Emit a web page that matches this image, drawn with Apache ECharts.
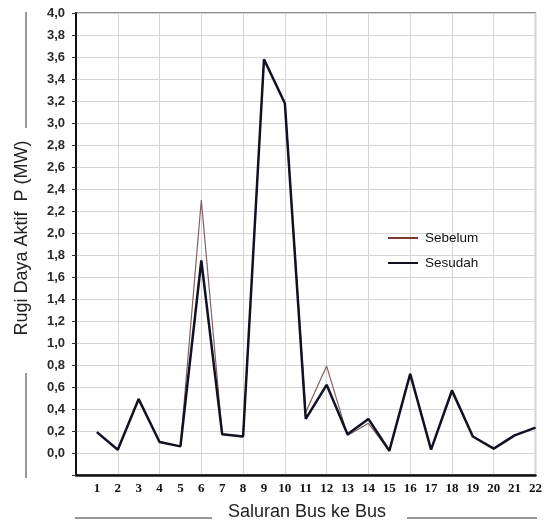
<!DOCTYPE html>
<html>
<head>
<meta charset="utf-8">
<script src="https://cdn.jsdelivr.net/npm/echarts@6/dist/echarts.min.js"></script>
<style>
html,body{margin:0;padding:0;background:#fff;}
#chart{width:545px;height:523px;}
</style>
</head>
<body>
<div id="chart"></div>
<script>
var categories = [1,2,3,4,5,6,7,8,9,10,11,12,13,14,15,16,17,18,19,20,21,22];
var sebelum = [0.19,0.03,0.49,0.10,0.06,2.30,0.17,0.15,3.58,3.18,0.37,0.79,0.16,0.27,0.02,0.72,0.03,0.55,0.15,0.04,0.16,0.23];
var sesudah = [0.19,0.03,0.49,0.10,0.06,1.75,0.17,0.15,3.58,3.18,0.31,0.62,0.17,0.31,0.02,0.72,0.03,0.57,0.15,0.04,0.16,0.23];
var seriesNames = ['Sebelum','Sesudah'];
var yTitle = 'Rugi Daya Aktif  P (MW)';
var xTitle = 'Saluran Bus ke Bus';

function pairs(vals){ return categories.map(function(c,i){ return [c, vals[i]]; }); }

var chart = echarts.init(document.getElementById('chart'));
chart.setOption({
  animation:false,
  backgroundColor:'#fff',
  grid:{left:76, top:13, right:5, bottom:48, show:true, borderColor:'#222', borderWidth:1.2},
  legend:{
    orient:'vertical', left:383, top:226, itemGap:11, itemWidth:30, itemHeight:2, icon:'rect',
    textStyle:{fontFamily:'Liberation Sans, Arial, sans-serif', fontSize:13.5, color:'#111', padding:[0,0,0,2]},
    data:seriesNames
  },
  xAxis:[{
    type:'value', min:0, max:22, interval:1,
    axisLine:{onZero:false, lineStyle:{color:'#111', width:2.5}},
    axisTick:{show:false},
    splitLine:{show:false},
    axisLabel:{margin:7, fontFamily:'Liberation Serif, Times New Roman, serif', fontWeight:'bold', fontSize:13, color:'#111',
      formatter:function(v){ return v===0 ? '' : String(v); }}
  },{
    type:'value', min:0, max:22, interval:2, position:'bottom',
    axisLine:{show:false, onZero:false}, axisTick:{show:false}, axisLabel:{show:false},
    splitLine:{show:true, lineStyle:{color:'#d4d4d4', width:1}}
  }],
  yAxis:{
    type:'value', min:-0.2, max:4.0, interval:0.2,
    axisLine:{show:true, onZero:false, lineStyle:{color:'#111', width:2}},
    axisTick:{show:true, length:4, lineStyle:{color:'#333'}},
    splitLine:{show:true, lineStyle:{color:'#d4d4d4', width:1}},
    axisLabel:{margin:11, fontFamily:'Liberation Sans, Arial, sans-serif', fontWeight:'bold', fontSize:13, color:'#2a2a2a',
      formatter:function(v){ return v < -0.01 ? '' : v.toFixed(1).replace('.', ','); }}
  },
  series:[{
    name:seriesNames[0], type:'line', data:pairs(sebelum), symbol:'none', z:3,
    lineStyle:{color:'#806060', width:1.2}, itemStyle:{color:'#7a3a30'}
  },{
    name:seriesNames[1], type:'line', data:pairs(sesudah), symbol:'none', z:4,
    lineStyle:{color:'#111122', width:2.5}, itemStyle:{color:'#111122'}
  }],
  graphic:[
    {type:'text', x:22, y:238, rotation:Math.PI/2, style:{text:yTitle, fontFamily:'Liberation Sans, Arial, sans-serif', fontSize:18, fill:'#222', align:'center', verticalAlign:'middle'}},
    {type:'line', shape:{x1:26, y1:12, x2:26, y2:128}, style:{stroke:'#333', lineWidth:1}},
    {type:'line', shape:{x1:26, y1:373, x2:26, y2:478}, style:{stroke:'#333', lineWidth:1}},
    {type:'text', x:307, y:512, style:{text:xTitle, fontFamily:'Liberation Sans, Arial, sans-serif', fontSize:18, fill:'#222', align:'center', verticalAlign:'middle'}},
    {type:'line', shape:{x1:75, y1:518, x2:212, y2:518}, style:{stroke:'#333', lineWidth:1}},
    {type:'line', shape:{x1:407, y1:518, x2:537, y2:518}, style:{stroke:'#333', lineWidth:1}}
  ]
});
</script>
</body>
</html>
